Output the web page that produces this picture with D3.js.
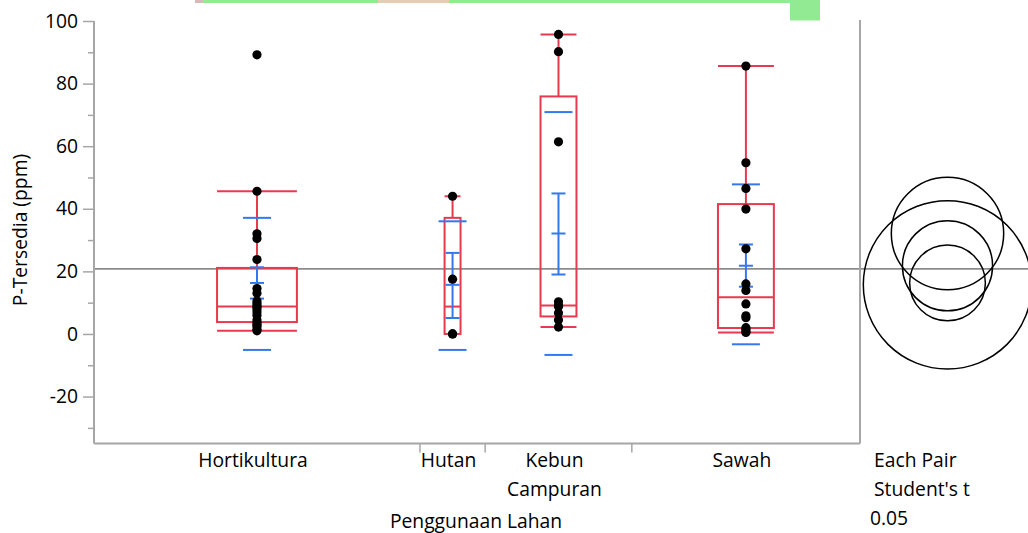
<!DOCTYPE html>
<html>
<head>
<meta charset="utf-8">
<script src="https://cdn.jsdelivr.net/npm/d3@7"></script>
<style>
  html, body { margin: 0; padding: 0; background: #fff; }
  svg { display: block; }
  text { font-family: "Open Sans", "Noto Sans", sans-serif; fill: #000; }
</style>
</head>
<body>
<svg id="chart" width="1028" height="533"></svg>
<script>
// ---------------- data ----------------
const categories = ["Hortikultura", "Hutan", "Kebun Campuran", "Sawah"];
const categoryLabelLines = [["Hortikultura"], ["Hutan"], ["Kebun", "Campuran"], ["Sawah"]];

const pointsHortikultura = [1, 1.5, 2.5, 3, 3.6, 4.5, 6, 7, 8, 8.6, 9, 9.8, 10.5, 13, 14.5, 23.8, 30.5, 32, 45.6, 89.2];
const pointsHutan = [0, 0, 17.5, 44];
const pointsKebunCampuran = [2.2, 4.5, 6.7, 8.8, 9.1, 10.3, 61.4, 90.2, 95.7];
const pointsSawah = [0.5, 0.8, 1.5, 2.0, 5.2, 5.8, 9.6, 13.9, 16, 27.2, 39.9, 46.5, 54.7, 85.6];

// box plot summaries
const boxQ1 = [3.8, 0, 5.6, 1.9];
const boxMedian = [8.8, 8.75, 9.1, 11.7];
const boxQ3 = [21.1, 37.1, 75.9, 41.5];
const whiskerLow = [1.05, 0, 2.2, 0.5];
const whiskerHigh = [45.6, 44, 95.7, 85.6];

// means, 95% CI and mean +/- 1 SD
const groupMean = [16.3, 15.7, 32.1, 21.8];
const ciLow = [11.3, 5.1, 19.0, 15.1];
const ciHigh = [21.3, 25.9, 44.9, 28.6];
const sdLow = [-5.1, -5.1, -6.7, -3.3];
const sdHigh = [37.1, 36.0, 70.9, 47.8];

// comparison circles (radius in response units)
const circleRadius = [12.1, 26.9, 17.95, 14.4];

const grandMean = 20.8;
const yMajorTicks = [-20, 0, 20, 40, 60, 80, 100];
const yMinorTicks = [-30, -10, 10, 30, 50, 70, 90];
const yDomain = [-35, 100];

const yTitle = "P-Tersedia (ppm)";
const xTitle = "Penggunaan Lahan";
const circleCaption = ["Each Pair", "Student's t", "0.05"];

// ---------------- drawing ----------------
const groupPoints = [pointsHortikultura, pointsHutan, pointsKebunCampuran, pointsSawah];
const svg = d3.select("#chart");

const red = "#e8394f", blue = "#3478f0", axisGray = "#a6a6a6";
const plotLeft = 94, plotRight = 860, plotTop = 21, plotBottom = 443.5;
const fontSize = 19.3;

const y = d3.scaleLinear().domain(yDomain).range([plotBottom, plotTop]);

// group widths proportional to group size
const counts = groupPoints.map(p => p.length);
const cum = [0];
counts.forEach(c => cum.push(cum[cum.length - 1] + c));
const xN = d3.scaleLinear().domain([0, cum[cum.length - 1]]).range([plotLeft, plotRight]);
const groups = categories.map((c, i) => {
  const x0 = xN(cum[i]), x1 = xN(cum[i + 1]);
  return { i, x0, x1, cx: (x0 + x1) / 2, w: x1 - x0 };
});

// decorative strip at top (screenshot artifact)
const deco = svg.append("g");
deco.append("rect").attr("x", 203).attr("y", 0).attr("width", 587).attr("height", 3).attr("fill", "#92ea92");
deco.append("rect").attr("x", 378).attr("y", 0).attr("width", 71).attr("height", 3).attr("fill", "#e8cbb0");
deco.append("rect").attr("x", 790).attr("y", 0).attr("width", 30).attr("height", 20.5).attr("fill", "#92ea92");
deco.append("rect").attr("x", 195).attr("y", 0).attr("width", 8).attr("height", 3).attr("fill", "#d9b8b8");

// grand mean line (across plot and circle panel)
svg.append("line")
  .attr("x1", plotLeft).attr("x2", 1028)
  .attr("y1", y(grandMean)).attr("y2", y(grandMean))
  .attr("stroke", "#8c8c8c").attr("stroke-width", 1.6);

// Y axis
const yAxis = d3.axisLeft(y).tickValues(yMajorTicks).tickSize(11).tickPadding(5).tickFormat(d => String(d));
const gy = svg.append("g").attr("transform", `translate(${plotLeft},0)`).call(yAxis);
gy.select(".domain").remove();
gy.selectAll(".tick line").attr("stroke", axisGray).attr("stroke-width", 1.5);
gy.selectAll(".tick text").attr("font-size", fontSize).attr("font-family", "'Open Sans', sans-serif").attr("fill", "#000").attr("dx", 0);
const gyMinor = svg.append("g").attr("transform", `translate(${plotLeft},0)`)
  .call(d3.axisLeft(y).tickValues(yMinorTicks).tickSize(6).tickFormat(""));
gyMinor.select(".domain").remove();
gyMinor.selectAll(".tick line").attr("stroke", axisGray).attr("stroke-width", 1.5);

svg.append("line").attr("x1", plotLeft).attr("x2", plotLeft).attr("y1", plotTop).attr("y2", plotBottom)
  .attr("stroke", axisGray).attr("stroke-width", 2);
// bottom axis line
svg.append("line").attr("x1", plotLeft).attr("x2", plotRight).attr("y1", plotBottom).attr("y2", plotBottom)
  .attr("stroke", axisGray).attr("stroke-width", 2);
// separator for circle panel
svg.append("line").attr("x1", plotRight).attr("x2", plotRight).attr("y1", plotTop - 1).attr("y2", plotBottom)
  .attr("stroke", axisGray).attr("stroke-width", 2);

// group boundary ticks
svg.append("g").selectAll("line").data(cum.slice(1, -1)).join("line")
  .attr("x1", d => xN(d)).attr("x2", d => xN(d))
  .attr("y1", plotBottom).attr("y2", plotBottom + 9)
  .attr("stroke", axisGray).attr("stroke-width", 1.5);

// category labels
const lbl = svg.append("g").attr("font-size", fontSize).attr("text-anchor", "middle");
groups.forEach(g => {
  categoryLabelLines[g.i].forEach((line, k) => {
    lbl.append("text").attr("x", g.cx - 4).attr("y", 467 + k * 29).text(line);
  });
});
svg.append("text").attr("x", 476).attr("y", 528).attr("text-anchor", "middle").attr("font-size", fontSize).text(xTitle);
svg.append("text").attr("transform", `translate(27,230) rotate(-90)`).attr("text-anchor", "middle")
  .attr("font-size", fontSize).text(yTitle);

// box plots
const boxes = svg.append("g");
groups.forEach(g => {
  const i = g.i, bw = g.w * 0.245, bx = g.cx - bw / 2;
  const gg = boxes.append("g").attr("stroke", red).attr("fill", "none").attr("stroke-width", 2);
  gg.append("line").attr("x1", g.cx).attr("x2", g.cx).attr("y1", y(boxQ3[i])).attr("y2", y(whiskerHigh[i]));
  gg.append("line").attr("x1", g.cx).attr("x2", g.cx).attr("y1", y(boxQ1[i])).attr("y2", y(whiskerLow[i]));
  gg.append("line").attr("x1", bx).attr("x2", bx + bw).attr("y1", y(whiskerHigh[i])).attr("y2", y(whiskerHigh[i]));
  gg.append("line").attr("x1", bx).attr("x2", bx + bw).attr("y1", y(whiskerLow[i])).attr("y2", y(whiskerLow[i]));
  gg.append("rect").attr("x", bx).attr("width", bw)
    .attr("y", y(boxQ3[i])).attr("height", y(boxQ1[i]) - y(boxQ3[i]));
  gg.append("line").attr("x1", bx).attr("x2", bx + bw).attr("y1", y(boxMedian[i])).attr("y2", y(boxMedian[i]));
});

// mean / CI / SD bars
const bars = svg.append("g").attr("stroke", blue).attr("stroke-width", 2);
groups.forEach(g => {
  const i = g.i;
  bars.append("line").attr("x1", g.cx - 14).attr("x2", g.cx + 14).attr("y1", y(sdHigh[i])).attr("y2", y(sdHigh[i]));
  bars.append("line").attr("x1", g.cx - 14).attr("x2", g.cx + 14).attr("y1", y(sdLow[i])).attr("y2", y(sdLow[i]));
  bars.append("line").attr("x1", g.cx).attr("x2", g.cx).attr("y1", y(ciLow[i])).attr("y2", y(ciHigh[i]));
  [ciLow[i], groupMean[i], ciHigh[i]].forEach(v => {
    bars.append("line").attr("x1", g.cx - 7).attr("x2", g.cx + 7).attr("y1", y(v)).attr("y2", y(v));
  });
});

// points
const pts = svg.append("g");
groups.forEach(g => {
  pts.selectAll(null).data(groupPoints[g.i]).join("circle")
    .attr("cx", g.cx).attr("cy", d => y(d)).attr("r", 4.6).attr("fill", "#000");
});

// comparison circles
const pxPerUnit = y(0) - y(1);
const circleCx = 947.5;
svg.append("g").selectAll("circle").data(categories).join("circle")
  .attr("cx", circleCx)
  .attr("cy", (d, i) => y(groupMean[i]))
  .attr("r", (d, i) => circleRadius[i] * pxPerUnit)
  .attr("fill", "none").attr("stroke", "#000").attr("stroke-width", 1.5);

const cap = svg.append("g").attr("font-size", fontSize);
cap.append("text").attr("x", 874).attr("y", 467).text(circleCaption[0]);
cap.append("text").attr("x", 874).attr("y", 496).text(circleCaption[1]);
cap.append("text").attr("x", 870).attr("y", 525).text(circleCaption[2]);
</script>
</body>
</html>
